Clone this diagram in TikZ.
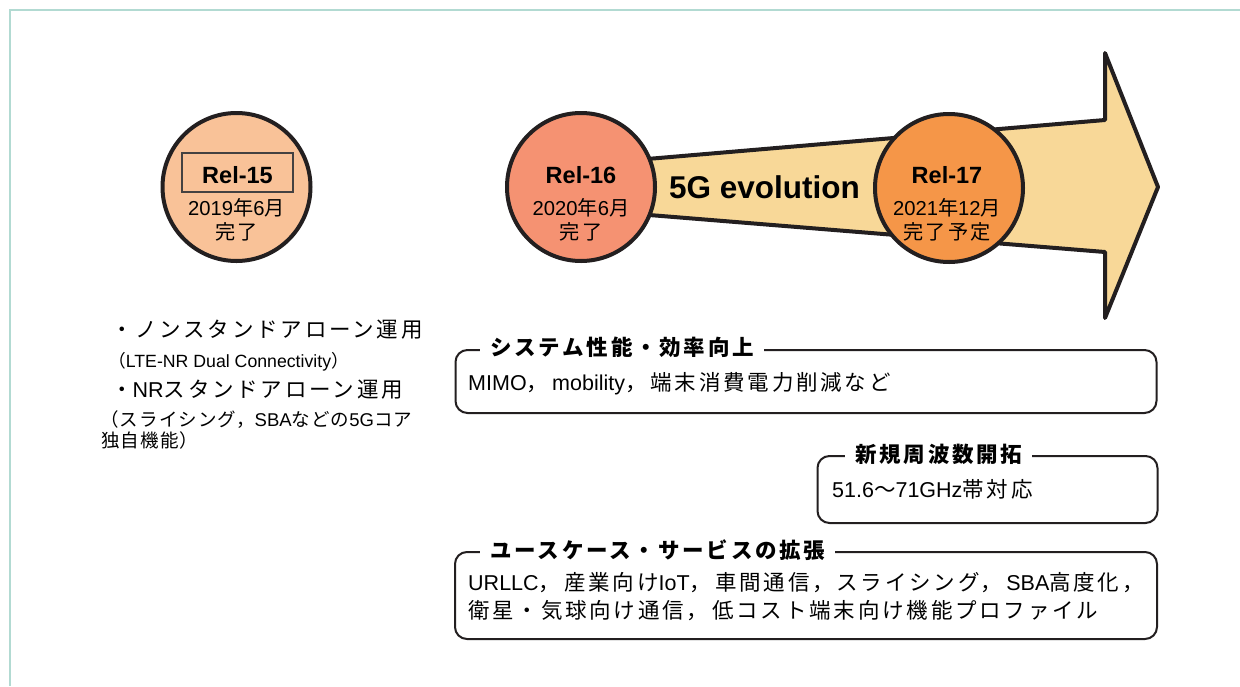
\documentclass[tikz,border=0pt]{standalone}
\usepackage{fontspec}
\setmainfont{Liberation Sans}
\newfontfamily\jpA[LetterSpace=13]{Noto Sans CJK JP}
\newfontfamily\jpB[LetterSpace=6]{Noto Sans CJK JP}
\newfontfamily\jpC[LetterSpace=11]{Noto Sans CJK JP}
\newcommand\curjp{\jpA}
\newcommand\JP[1]{{\curjp #1}}
\newcommand\bodyf{\let\curjp\jpA\fontsize{21.5}{26}\selectfont}
\newcommand\smallf{\let\curjp\jpB\fontsize{18.5}{22}\selectfont}
\newcommand\circf{\let\curjp\jpC\fontsize{20.2}{24}\selectfont}
\definecolor{outl}{RGB}{35,31,32}
\definecolor{c15}{RGB}{249,194,152}
\definecolor{c16}{RGB}{245,146,114}
\definecolor{c17}{RGB}{245,150,72}
\definecolor{arrowc}{RGB}{248,216,152}
\definecolor{framec}{RGB}{178,218,210}
\tikzset{
  relc/.style={circle, draw=outl, line width=4pt, minimum size=148pt, inner sep=0pt},
  tbox/.style={draw=outl, line width=2pt, rounded corners=12pt, inner sep=0pt},
  ttl/.style={anchor=west, fill=white, inner xsep=10pt, inner ysep=2pt, font=\bodyf\bfseries},
  body/.style={anchor=base west, inner sep=0pt, font=\bodyf},
  lbig/.style={anchor=base west, inner sep=0pt, font=\bodyf},
  lsmall/.style={anchor=base west, inner sep=0pt, font=\smallf},
  reltxt/.style={anchor=base, inner sep=0pt, font=\fontsize{23.5}{28}\selectfont\bfseries},
  datetxt/.style={anchor=base, inner sep=0pt, font=\circf},
}
\begin{document}
\begin{tikzpicture}[x=1pt,y=-1pt]
\useasboundingbox (0,0) rectangle (1240,686);
% frame
\draw[framec, line width=2pt] (1240,10) -- (10,10) -- (10,686);
% big arrow
\draw[draw=outl, line width=4pt, line join=round, fill=arrowc]
  (600,163) -- (1105,120) -- (1105,53) -- (1158,187) -- (1105,318) -- (1105,252) -- (600,211) -- cycle;
\node[inner sep=0pt, font=\fontsize{31.5}{36}\selectfont\bfseries] (evo) at (764.5,187) {5G evolution};
% circles
\node[relc, fill=c15] (r15) at (236.5,187) {};
\node[relc, fill=c16] (r16) at (581,187) {};
\node[relc, fill=c17] (r17) at (949,188) {};
\node[draw=outl!85, line width=1.5pt, minimum width=111pt, minimum height=39pt, inner sep=0pt] (r15box) at (237.5,172.5) {};
\node[reltxt] (t15) at (237.5,183) {Rel-15};
\node[datetxt] (d15) at (236.5,215) {2019\JP{年}6\JP{月}};
\node[datetxt] (k15) at (236.5,239) {\JP{完了}};
\node[reltxt] (t16) at (581,183) {Rel-16};
\node[datetxt] (d16) at (581,215) {2020\JP{年}6\JP{月}};
\node[datetxt] (k16) at (581,239) {\JP{完了}};
\node[reltxt] (t17) at (947,183) {Rel-17};
\node[datetxt] (d17) at (947,215) {2021\JP{年}12\JP{月}};
\node[datetxt] (k17) at (947,239) {\JP{完了予定}};
% left texts
\node[lbig] (l1) at (111,337) {\JP{・ノンスタンドアローン運用}};
\node[lsmall, font=\let\curjp\jpB\fontsize{17.7}{22}\selectfont] (l2) at (108,367) {\JP{（}LTE-NR Dual Connectivity\JP{）}};
\node[lbig] (l3) at (111,397) {\JP{・}NR\JP{スタンドアローン運用}};
\node[lsmall] (l4) at (100,426) {\JP{（スライシング，}SBA\JP{などの}5G\JP{コア}};
\node[lsmall] (l5) at (101,447) {\JP{独自機能）}};
% box 1
\node[tbox, minimum width=701pt, minimum height=63pt] (b1) at (806,381.5) {};
\node[ttl] (b1t) at (480,347) {\JP{システム性能・効率向上}};
\node[body] (b1x) at (468,390) {MIMO\JP{，}\hspace{4pt}mobility\JP{，}\hspace{4pt}\JP{端末消費電力削減など}};
% box 2
\node[tbox, minimum width=340pt, minimum height=67pt] (b2) at (987.5,489.5) {};
\node[ttl] (b2t) at (845,454) {\JP{新規周波数開拓}};
\node[body] (b2x) at (832,497) {51.6\JP{～}71GHz\JP{帯対応}};
% box 3
\node[tbox, minimum width=702pt, minimum height=87pt] (b3) at (806,595.5) {};
\node[ttl] (b3t) at (480,550) {\JP{ユースケース・サービスの拡張}};
\node[body] (b3x) at (468,590) {URLLC\JP{，}\hspace{4pt}\JP{産業向け}IoT\JP{，}\hspace{4pt}\JP{車間通信，スライシング，}\hspace{4pt}SBA\JP{高度化，}};
\node[body] (b3y) at (468,618) {\JP{衛星・気球向け通信，}\hspace{4pt}\JP{低コスト端末向け機能プロファイル}};
\end{tikzpicture}
\end{document}
